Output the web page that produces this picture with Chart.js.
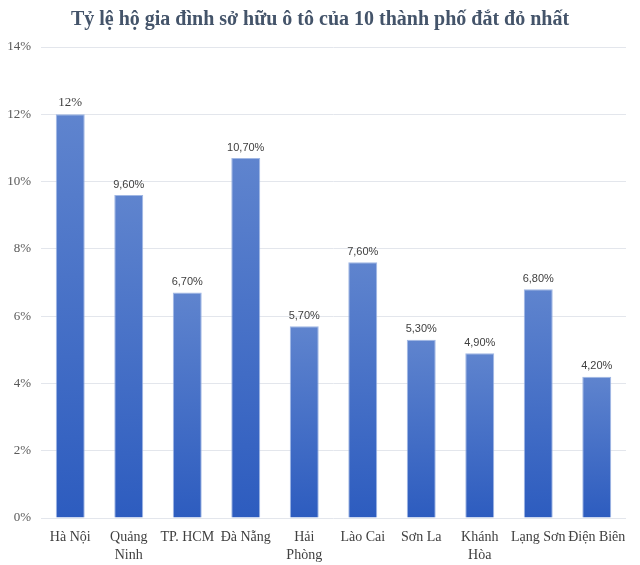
<!DOCTYPE html>
<html>
<head>
<meta charset="utf-8">
<script src="https://cdn.jsdelivr.net/npm/chart.js@4"></script>
<style>
  html, body { margin: 0; padding: 0; background: #fff; }
  #wrap { width: 640px; height: 565px; }
</style>
</head>
<body>
<div id="wrap"><canvas id="c" width="640" height="565"></canvas></div>
<script>
const titleText = "Tỷ lệ hộ gia đình sở hữu ô tô của 10 thành phố đắt đỏ nhất";
const categories = [
  "Hà Nội", ["Quảng", "Ninh"], "TP. HCM", "Đà Nẵng", ["Hải", "Phòng"],
  "Lào Cai", "Sơn La", ["Khánh", "Hòa"], "Lạng Sơn", "Điện Biên"
];
const values = [12, 9.6, 6.7, 10.7, 5.7, 7.6, 5.3, 4.9, 6.8, 4.2];
const valueLabels = ["12%", "9,60%", "6,70%", "10,70%", "5,70%", "7,60%", "5,30%", "4,90%", "6,80%", "4,20%"];
const yTicks = [0, 2, 4, 6, 8, 10, 12, 14];

const dataLabelPlugin = {
  id: 'dataLabels',
  afterDatasetsDraw(chart) {
    const ctx = chart.ctx;
    const meta = chart.getDatasetMeta(0);
    ctx.save();
    ctx.fillStyle = '#404040';
    ctx.textAlign = 'center';
    ctx.textBaseline = 'bottom';
    meta.data.forEach((el, i) => {
      ctx.font = i === 0 ? '13px "Liberation Serif"' : '11px "Liberation Sans"';
      ctx.fillText(valueLabels[i], el.x, el.y - 5);
    });
    ctx.restore();
  }
};

const titlePlugin = {
  id: 'centeredTitle',
  afterDraw(chart) {
    const ctx = chart.ctx;
    ctx.save();
    ctx.fillStyle = '#44546A';
    ctx.font = 'bold 20px "Liberation Serif"';
    ctx.textAlign = 'center';
    ctx.textBaseline = 'middle';
    ctx.fillText(titleText, chart.width / 2, 20);
    ctx.restore();
  }
};

function barGradient(context) {
  const chart = context.chart;
  const area = chart.chartArea;
  if (!area) return '#3F6AC6';
  const v = context.raw;
  const ys = chart.scales.y;
  const top = ys.getPixelForValue(v);
  const bottom = ys.getPixelForValue(0);
  const g = chart.ctx.createLinearGradient(0, top, 0, bottom);
  g.addColorStop(0, '#5F84CE');
  g.addColorStop(1, '#2D5CBF');
  return g;
}

new Chart(document.getElementById('c'), {
  type: 'bar',
  data: {
    labels: categories,
    datasets: [{
      data: values,
      backgroundColor: barGradient,
      borderColor: 'rgba(150,175,225,0.9)',
      borderWidth: 1,
      categoryPercentage: 1,
      barPercentage: 0.495
    }]
  },
  options: {
    responsive: false,
    animation: false,
    layout: { padding: { left: 0, right: 14, top: 47, bottom: 0 } },
    plugins: {
      legend: { display: false },
      tooltip: { enabled: false },
      title: { display: false }
    },
    scales: {
      x: {
        grid: { display: false },
        border: { display: false },
        ticks: {
          color: '#404040',
          font: { family: '"Liberation Serif"', size: 14, lineHeight: 1.25 },
          maxRotation: 0,
          minRotation: 0,
          autoSkip: false,
          padding: 3
        },
        afterFit(s) { s.height = 47; }
      },
      y: {
        min: 0,
        max: 14,
        afterBuildTicks(s) { s.ticks = yTicks.map(v => ({ value: v })); },
        grid: { color: '#E3E6EC', lineWidth: 1, drawTicks: false },
        border: { display: false },
        ticks: {
          color: '#595959',
          font: { family: '"Liberation Serif"', size: 13 },
          padding: 10,
          callback: v => v + '%'
        },
        afterFit(s) { s.width = 41; }
      }
    }
  },
  plugins: [dataLabelPlugin, titlePlugin]
});
</script>
</body>
</html>
